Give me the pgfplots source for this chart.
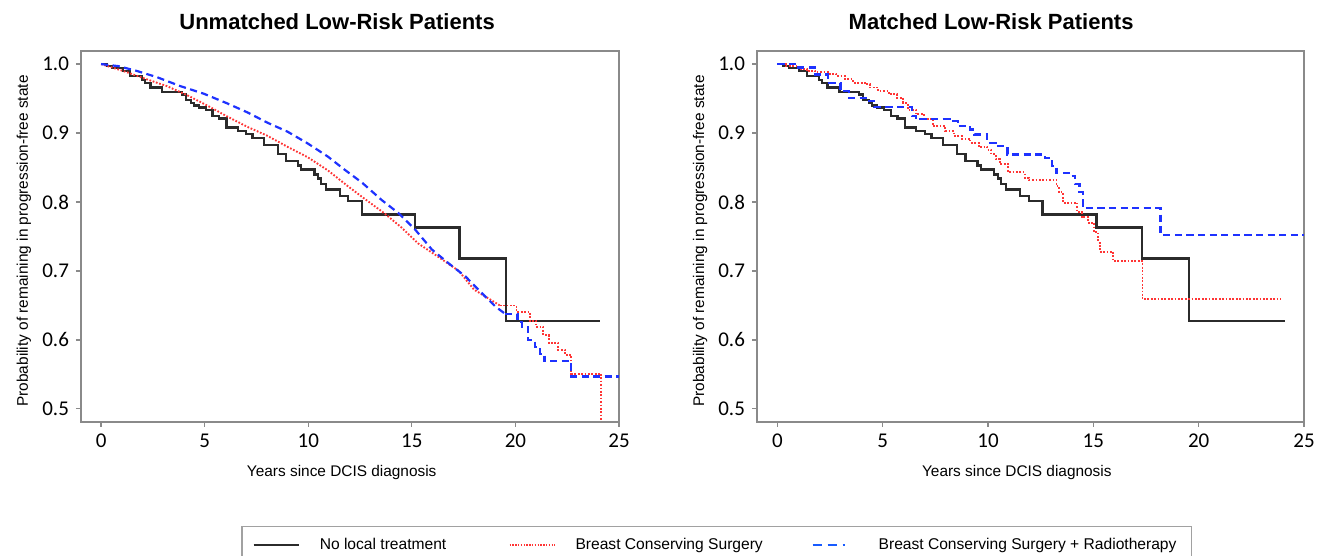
\documentclass[border=0pt]{standalone}
\usepackage{fontspec}
\setmainfont{Liberation Sans}
\newfontfamily\carlito{Carlito}
\usepackage{pgfplots}
\usepackage{pgfplotstable}
\pgfplotsset{compat=1.18}

\definecolor{kmblack}{HTML}{2B2B2B}
\definecolor{kmred}{HTML}{FF3535}
\definecolor{kmblue}{HTML}{1E32FF}
\definecolor{axgray}{HTML}{8A8A8A}

% No local treatment (same curve in both panels)
\pgfplotstableread{
x y
0 1.0
0.27 0.997
0.54 0.994
1.04 0.990
1.40 0.983
1.97 0.977
2.10 0.972
2.38 0.966
2.95 0.959
3.89 0.956
4.08 0.948
4.33 0.944
4.49 0.940
4.73 0.937
5.05 0.933
5.38 0.925
5.70 0.921
6.05 0.908
6.59 0.903
6.99 0.899
7.31 0.893
7.85 0.883
8.53 0.870
8.93 0.860
9.50 0.853
9.66 0.847
10.30 0.840
10.47 0.834
10.63 0.826
10.87 0.818
11.52 0.809
11.93 0.801
12.58 0.782
15.15 0.763
17.30 0.718
19.55 0.628
24.10 0.628
}\blacktab

\pgfplotstableread{
x y
0 1.0
1.07 0.990
2.20 0.978
3.18 0.968
4.15 0.955
5.12 0.940
6.09 0.924
7.06 0.909
8.03 0.896
9.00 0.880
9.97 0.865
10.94 0.846
11.91 0.823
12.57 0.808
13.70 0.783
14.50 0.763
15.30 0.740
16.30 0.720
17.27 0.700
18.00 0.673
18.60 0.662
19.25 0.650
}\redLa
\pgfplotstableread{
x y
19.25 0.650
20.05 0.641
20.70 0.628
21.00 0.619
21.35 0.607
21.60 0.596
22.05 0.586
22.40 0.578
22.70 0.551
24.15 0.460
}\redLb

\pgfplotstableread{
x y
0 1.0
0.84 0.997
1.73 0.990
2.70 0.981
3.83 0.968
4.96 0.957
6.09 0.943
7.06 0.930
8.03 0.915
9.00 0.902
9.97 0.885
10.94 0.866
11.75 0.847
12.60 0.828
13.54 0.803
14.35 0.784
15.16 0.760
15.97 0.731
16.78 0.711
17.59 0.692
18.24 0.672
19.05 0.648
19.50 0.638
}\blueLa
\pgfplotstableread{
x y
19.50 0.638
20.10 0.626
20.30 0.619
20.60 0.600
20.95 0.590
21.20 0.580
21.40 0.569
22.70 0.547
25.00 0.547
}\blueLb

\pgfplotstableread{
x y
0 1.0
1.00 0.995
1.79 0.985
2.39 0.973
2.99 0.961
3.39 0.951
4.18 0.946
4.58 0.938
6.37 0.925
6.57 0.920
8.17 0.917
8.57 0.910
9.16 0.905
9.36 0.898
9.96 0.886
10.36 0.881
10.92 0.869
12.70 0.864
13.05 0.852
13.25 0.842
13.94 0.838
14.14 0.826
14.34 0.814
14.50 0.791
18.19 0.752
25.00 0.752
}\blueR

\pgfplotstableread{
x y
0 1.0
0.40 0.997
1.00 0.993
1.39 0.990
1.79 0.988
2.39 0.986
2.79 0.983
3.19 0.978
3.59 0.973
4.18 0.971
4.38 0.966
4.78 0.961
5.28 0.956
5.68 0.951
5.98 0.944
6.18 0.934
6.57 0.927
6.97 0.921
7.37 0.910
7.97 0.903
8.37 0.896
8.76 0.892
9.16 0.886
9.56 0.880
9.96 0.876
10.16 0.869
10.36 0.862
10.56 0.855
10.96 0.843
11.75 0.835
11.95 0.832
13.25 0.823
13.35 0.814
13.55 0.799
14.24 0.785
14.44 0.778
14.74 0.770
15.04 0.756
15.24 0.741
15.30 0.728
15.94 0.714
17.33 0.659
23.90 0.659
}\redR

\pgfplotsset{
  kmaxis/.style={
    scale only axis, height=185.5pt,
    xmin=-0.97, xmax=25, ymin=0.481, ymax=1.019,
    xtick={0,5,10,15,20,25},
    ytick={0.5,0.6,0.7,0.8,0.9,1.0},
    axis line style={axgray, line width=0.75pt},
    tick align=outside, major tick length=2.5pt,
    tick style={axgray, line width=0.6pt},
    xtick pos=lower, ytick pos=left,
    tick label style={font=\carlito\fontsize{10.5}{12}\selectfont},
    /pgf/number format/assume math mode=true,
    yticklabel style={/pgf/number format/.cd, fixed, fixed zerofill, precision=1},
    xticklabel style={/pgf/number format/.cd, fixed, precision=0},
    every axis title shift=0pt,
    title style={font=\bfseries\fontsize{11}{13}\selectfont, anchor=base},
    xlabel style={font=\fontsize{7.7}{9}\selectfont, anchor=base},
    ylabel style={font=\fontsize{7.7}{9}\selectfont, anchor=center},
    xlabel={Years since DCIS diagnosis},
    ylabel={Probability of remaining in progression-free state},
  },
  kblack/.style={const plot, kmblack, line width=1.1pt},
  kred/.style={kmred, line width=0.95pt, dash pattern=on 0.85pt off 0.85pt},
  kblue/.style={kmblue, line width=1.1pt, dash pattern=on 3.6pt off 2.2pt},
}

\begin{document}
\begin{tikzpicture}[x=1pt,y=1pt]
\useasboundingbox (0,0) rectangle (658.5,278);
\begin{axis}[kmaxis, width=269pt, at={(40.5pt,67pt)}, anchor=south west,
  title={Unmatched Low-Risk Patients},
  title style={at={(axis description cs:0.476,1.0566)}},
  xlabel style={at={(axis description cs:0.4846,-0.1474)}},
  ylabel style={at={(axis description cs:-0.106,0.488)}},
  legend columns=3,
  legend style={at={(axis description cs:0.2974,-0.2803)}, anchor=north west,
    draw=axgray!80, line width=0.75pt, inner xsep=5.5pt, inner ysep=5.5pt,
    font=\fontsize{7.8}{9}\selectfont, nodes={inner sep=0pt}, cells={anchor=west},
    /tikz/column sep=0pt},
  legend image code/.code={\path[draw=none] (0pt,0pt) -- (33pt,0pt); \draw[#1] (0pt,0pt) -- (22.5pt,0pt);},
]
\addplot[kblack, forget plot] table {\blacktab};
\addplot[kred, sharp plot, forget plot] table {\redLa};
\addplot[kred, const plot, forget plot] table {\redLb};
\addplot[kblue, sharp plot, forget plot] table {\blueLa};
\addplot[kblue, const plot, forget plot] table {\blueLb};
\addlegendimage{kmblack, line width=1pt}
\addlegendentry{\makebox[94.5pt][l]{No local treatment}}
\addlegendimage{kmred, line width=0.8pt, dash pattern=on 0.7pt off 0.7pt}
\addlegendentry{\makebox[118pt][l]{Breast Conserving Surgery}}
\addlegendimage{kmblue!80!cyan, line width=1.1pt, dash pattern=on 4.5pt off 3pt on 4.5pt off 3pt on 1pt off 10pt}
\addlegendentry{\makebox[151pt][l]{Breast Conserving Surgery + Radiotherapy}}
\end{axis}

\begin{axis}[kmaxis, width=273.5pt, at={(378.5pt,67pt)}, anchor=south west,
  title={Matched Low-Risk Patients},
  title style={at={(axis description cs:0.428,1.0566)}},
  xlabel style={at={(axis description cs:0.475,-0.1474)}},
  ylabel style={at={(axis description cs:-0.104,0.488)}},
]
\addplot[kblack] table {\blacktab};
\addplot[kred, const plot] table {\redR};
\addplot[kblue, const plot] table {\blueR};
\end{axis}
\end{tikzpicture}
\end{document}
